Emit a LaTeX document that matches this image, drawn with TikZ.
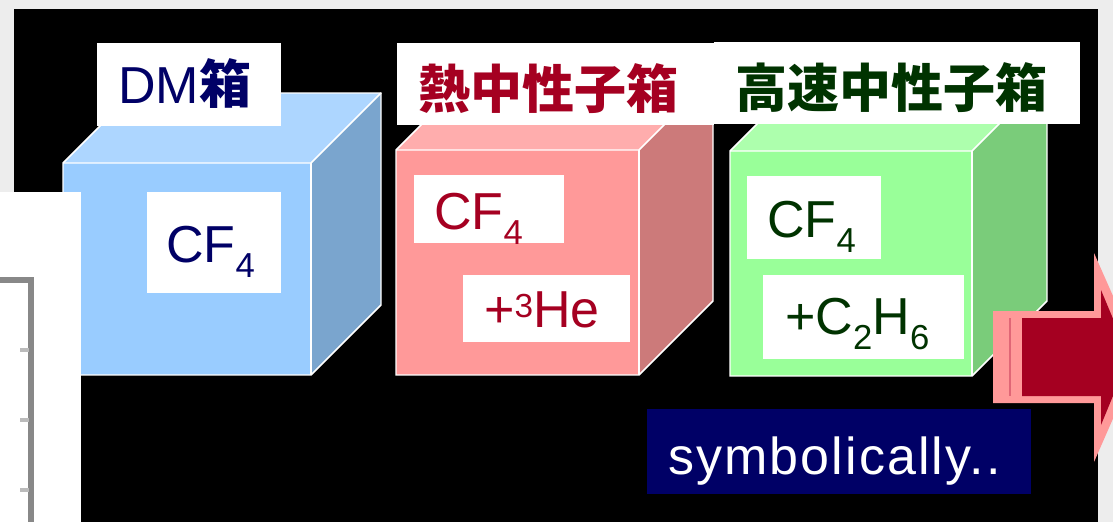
\documentclass[tikz,border=0pt]{standalone}
\usepackage{fontspec}
\setmainfont{Liberation Sans}
\newfontfamily\cjk{Noto Sans CJK JP}

\definecolor{pagegray}{HTML}{EDEDED}
\definecolor{navytext}{HTML}{000066}
\definecolor{wine}{HTML}{A50021}
\definecolor{forest}{HTML}{003300}
\definecolor{axisgray}{HTML}{888888}
\definecolor{tickgray}{HTML}{BBBBBB}
\definecolor{blueFront}{HTML}{99CCFF}
\definecolor{blueTop}{HTML}{ADD6FF}
\definecolor{blueSide}{HTML}{7AA5CE}
\definecolor{redFront}{HTML}{FF9999}
\definecolor{redTop}{HTML}{FFADAD}
\definecolor{redSide}{HTML}{CC7A7A}
\definecolor{greenFront}{HTML}{99FF99}
\definecolor{greenTop}{HTML}{ADFFAD}
\definecolor{greenSide}{HTML}{7ACC7A}
\definecolor{arrowRim}{HTML}{FF9999}
\definecolor{arrowStripe}{HTML}{E06676}

% chemical sub- and superscripts at the size of the main text
\newcommand{\gassub}[1]{\raisebox{-11.25pt}{\fontsize{26pt}{26pt}\selectfont #1}}
\newcommand{\gassup}[1]{\raisebox{7.5pt}{\fontsize{25pt}{25pt}\selectfont #1}}

% a box in cabinet view: front rectangle (x1,y1)-(x2,y2), depth d
\newcommand{\gasbox}[8]{%
  \fill[#6] (#1,#2) -- (#1+#5,#2-#5) -- (#3+#5,#2-#5) -- (#3,#2) -- cycle;
  \fill[#8] (#3,#2) -- (#3+#5,#2-#5) -- (#3+#5,#4-#5) -- (#3,#4) -- cycle;
  \fill[#7] (#1,#2) rectangle (#3,#4);
  \draw[edge] (#1,#4) -- (#1,#2) -- (#1+#5,#2-#5) -- (#3+#5,#2-#5)
              -- (#3+#5,#4-#5) -- (#3,#4) -- cycle;
  \draw[edge] (#1,#2) -- (#3,#2) -- (#3+#5,#2-#5);
  \draw[edge] (#3,#2) -- (#3,#4);
}

\tikzset{
  edge/.style={white, line width=1.1pt, line join=miter},
  plate/.style={fill=white},
  txt/.style={anchor=base west, inner sep=0pt, font=\fontsize{39pt}{39pt}\selectfont},
}

\begin{document}
\begin{tikzpicture}[x=0.75pt, y=-0.75pt]
  \useasboundingbox (0,0) rectangle (1113,522);
  \fill[pagegray] (0,0) rectangle (1113,522);
  \fill[black] (14,9) rectangle (1098,522);

  % the three boxes
  \gasbox{63}{163}{311}{375}{70}{blueTop}{blueFront}{blueSide}
  \gasbox{396}{150}{639}{375}{74}{redTop}{redFront}{redSide}
  \gasbox{730}{151}{972}{376}{75}{greenTop}{greenFront}{greenSide}

  % white panel with a plot axis at the left edge
  \fill[white] (0,192) rectangle (81,522);
  \draw[axisgray, line width=3.8pt] (0,280) -- (31,280) -- (31,522);
  \foreach \ty in {350,420,490}
    \draw[tickgray, line width=3pt] (20,\ty) -- (29,\ty);

  % titles
  \fill[plate] (97,43) rectangle (281,126);
  \node[txt, text=navytext] (dmtitle) at (118,103) {DM{\cjk\bfseries 箱}};
  \fill[plate] (397,43) rectangle (714,125);
  \node[txt, text=wine] (thermaltitle) at (418,108) {\cjk\bfseries 熱中性子箱};
  \fill[plate] (714,42) rectangle (1080,124);
  \node[txt, text=forest] (fasttitle) at (735,107) {\cjk\bfseries 高速中性子箱};

  % gas contents
  \fill[plate] (147,192) rectangle (281,293);
  \node[txt, text=navytext] (dmgas) at (166,262) {CF\gassub{4}};

  \fill[plate] (414,175) rectangle (564,243);
  \node[txt, text=wine] (thermalgas) at (434,229) {CF\gassub{4}};
  \fill[plate] (463,275) rectangle (630,342);
  \node[txt, text=wine] (thermaladd) at (484,327) {+\gassup{3}He};

  \fill[plate] (747,176) rectangle (881,259);
  \node[txt, text=forest] (fastgas) at (767,237) {CF\gassub{4}};
  \fill[plate] (763,275) rectangle (964,359);
  \node[txt, text=forest] (fastadd) at (785,334) {+C\gassub{2}H\gassub{6}};

  % block arrow at the right
  \fill[arrowRim] (993,311) -- (1094,311) -- (1094,253) -- (1140,357)
    -- (1094,462) -- (1094,403) -- (993,403) -- cycle;
  \fill[wine] (1022,318) -- (1101,318) -- (1101,290) -- (1129,357)
    -- (1101,425) -- (1101,396) -- (1022,396) -- cycle;
  \draw[arrowStripe, line width=1.5pt] (1010,318) -- (1010,396);

  % caption
  \fill[navytext] (647,409) rectangle (1031,494);
  \node[txt, text=white, font=\fontsize{39pt}{39pt}\selectfont\addfontfeature{LetterSpace=4}]
    (caption) at (668,474) {symbolically..};
\end{tikzpicture}
\end{document}
